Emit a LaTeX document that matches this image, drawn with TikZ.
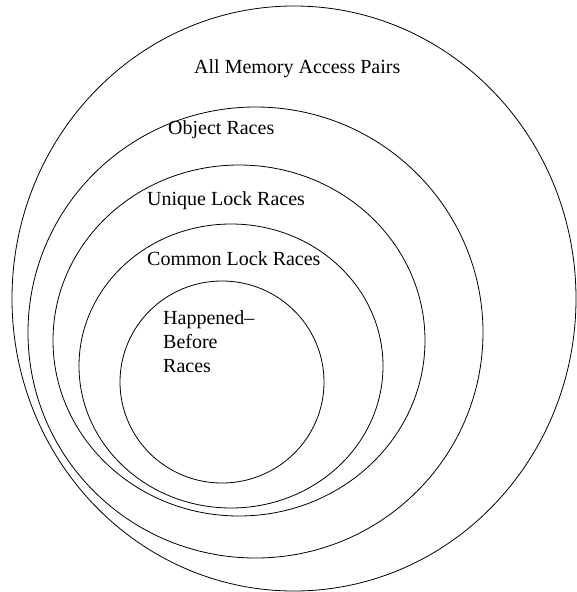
\documentclass[tikz,border=0pt]{standalone}
\usepackage{fontspec}
\setmainfont{Liberation Serif}
\usetikzlibrary{positioning,shapes.geometric}
\tikzset{
  setring/.style={ellipse, draw=black, line width=0.8pt, inner sep=0pt},
  setlbl/.style={font=\fontsize{20}{24}\selectfont, inner sep=0pt, align=left},
}

\begin{document}
\begin{tikzpicture}[x=1pt,y=1pt]
  \useasboundingbox (0,0) rectangle (576,-592);

  % nested sets, outer to inner
  \foreach \n/\x/\y/\w/\h in {all/294/-298.5/564/585, obj/255.5/-332.5/455/451,
      uniq/239/-340.5/372/351, comm/231/-366/304/284, hb/222/-382/204/202} {
    \node[setring, minimum width=\w pt, minimum height=\h pt] (\n) at (\x,\y) {};
  }

  % labels
  \node[setlbl, anchor=base west] (allL)  at (194,-73)  {All Memory Access Pairs};
  \node[setlbl, anchor=base west] (objL)  at (168,-134) {Object Races};
  \node[setlbl, anchor=base west] (uniqL) at (147,-205) {Unique Lock Races};
  \node[setlbl, anchor=base west] (commL) at (147,-265) {Common Lock Races};
  \node[setlbl, anchor=north west] (hbL)  at (163,-310.5) {Happened--\\Before\\Races};
\end{tikzpicture}
\end{document}
